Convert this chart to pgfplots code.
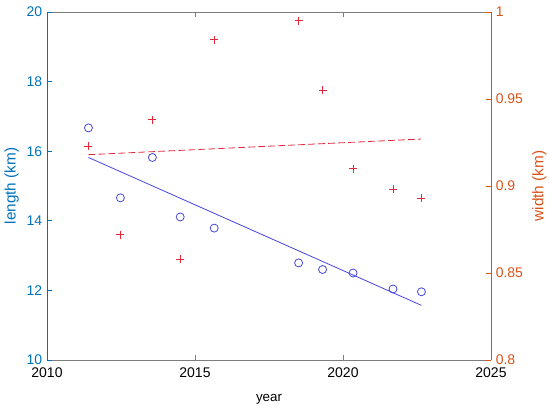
\documentclass[border=0pt]{standalone}
\usepackage{fontspec}
\setmainfont{Liberation Sans}
\usepackage{pgfplots}
\pgfplotsset{compat=1.18}
\definecolor{lblue}{RGB}{0,114,189}
\definecolor{rorange}{RGB}{217,83,25}
\definecolor{mblue}{RGB}{70,70,225}
\definecolor{mred}{RGB}{228,40,60}
\definecolor{axgray}{RGB}{125,125,125}
\begin{document}
\begin{tikzpicture}
\pgfplotsset{
 every axis/.append style={
  width=333pt, height=261pt, scale only axis,
  xmin=2010, xmax=2025,
  tick align=inside,
  /pgf/number format/assume math mode=true,
  tick label style={font=\fontsize{10.5}{12}\selectfont},
  label style={font=\fontsize{11.5}{13}\selectfont},
  major tick length=4pt,
  line width=0.5pt,
 }
}
% x axis box (bottom and top)
\begin{axis}[name=ax,
  axis x line=box, axis y line=none,
  ymin=10, ymax=20,
  xtick={2010,2015,2020,2025},
  xticklabel pos=bottom,
  xtick pos=both,
  /pgf/number format/1000 sep={},
  xticklabel style={yshift=-2.5pt},
  x axis line style={axgray, line width=0.55pt},
  tick style={axgray, line width=0.5pt},
  xlabel={year},
  xlabel style={yshift=-5.5pt},
]
\end{axis}
% left axis: length
\begin{axis}[
  axis x line=none, axis y line*=left,
  ymin=10, ymax=20,
  ytick={10,12,14,16,18,20},
  y axis line style={lblue, line width=0.55pt},
  tick style={lblue, line width=0.5pt},
  yticklabel style={lblue},
  ylabel={length (km)},
  ylabel style={lblue, yshift=-1pt},
]
\addplot[only marks, mark=o, mark size=3pt, mark options={mblue, line width=0.6pt}] coordinates {
(2011.40,16.67) (2012.48,14.66) (2013.56,15.82) (2014.50,14.11) (2015.65,13.79)
(2018.50,12.79) (2019.31,12.60) (2020.34,12.50) (2021.69,12.04) (2022.65,11.96)
};
\addplot[mblue, line width=0.6pt] coordinates {(2011.40,15.82) (2022.65,11.57)};
\end{axis}
% right axis: width
\begin{axis}[
  axis x line=none, axis y line*=right,
  ymin=0.8, ymax=1,
  ytick={0.8,0.85,0.9,0.95,1},
  y axis line style={rorange, line width=0.55pt},
  tick style={rorange, line width=0.5pt},
  yticklabel style={rorange},
  ylabel={width (km)},
  ylabel style={rorange},
]
\addplot[only marks, mark=+, mark size=3pt, mark options={mred, line width=0.6pt}] coordinates {
(2011.40,0.923) (2012.48,0.872) (2013.56,0.938) (2014.50,0.858) (2015.65,0.984)
(2018.50,0.995) (2019.31,0.955) (2020.34,0.910) (2021.69,0.898) (2022.65,0.893)
};
\addplot[mred, line width=0.6pt, dash pattern=on 5pt off 2.5pt] coordinates {(2011.40,0.918) (2022.65,0.927)};
\end{axis}
\pgfresetboundingbox
\path[use as bounding box] ([xshift=-35.25pt,yshift=-35.25pt]ax.south west) rectangle ([xshift=44.25pt,yshift=9pt]ax.north east);
\end{tikzpicture}
\end{document}
